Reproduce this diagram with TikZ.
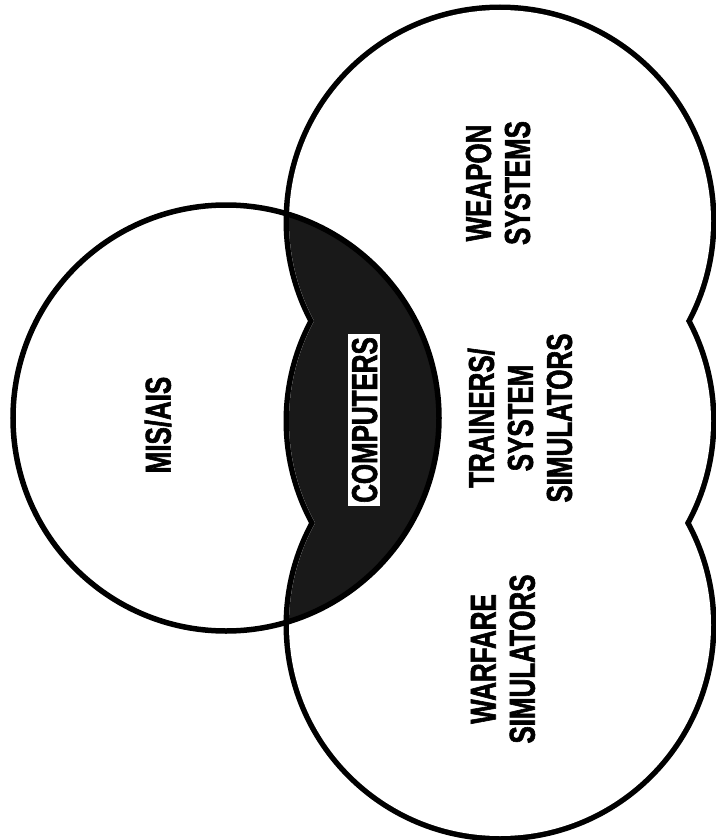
\documentclass[tikz,border=0pt]{standalone}
\usepackage{fontspec}
\newfontfamily\cond[FakeStretch=0.72,FakeBold=1.6]{Liberation Sans Bold}
\begin{document}
\begin{tikzpicture}[x=1pt,y=-1pt,
  lbl/.style={font=\cond\fontsize{36}{39}\selectfont, align=center, rotate=90, inner sep=0pt},
  dark/.style={fill=black!90}]
\useasboundingbox (0,0) rectangle (715,840);
% right shape: outer outline of three lobes
\draw[line width=11pt] (500,221) circle[radius=211pt] (500,421) circle[radius=211pt] (500,625) circle[radius=211pt];
\fill[white] (500,221) circle[radius=211pt] (500,421) circle[radius=211pt] (500,625) circle[radius=211pt];
% shaded intersection
\begin{scope}
  \clip (226,418) circle[radius=213pt];
  \fill[dark] (500,221) circle[radius=211pt] (500,421) circle[radius=211pt] (500,625) circle[radius=211pt];
\end{scope}
% left circle
\draw[line width=5.5pt] (226,418) circle[radius=213pt];
% labels
\node[lbl] (mis) at (158,425) {MIS/AIS};
\node[lbl] (weapon) at (498,183) {WEAPON\\SYSTEMS};
\node[lbl] (trainers) at (520,418) {TRAINERS/\\SYSTEM\\SIMULATORS};
\node[lbl] (warfare) at (503,659) {WARFARE\\SIMULATORS};
\node[lbl, fill=white, inner sep=3pt, text height=26pt, text depth=0pt] (comp) at (364,420) {COMPUTERS};
\end{tikzpicture}
\end{document}
